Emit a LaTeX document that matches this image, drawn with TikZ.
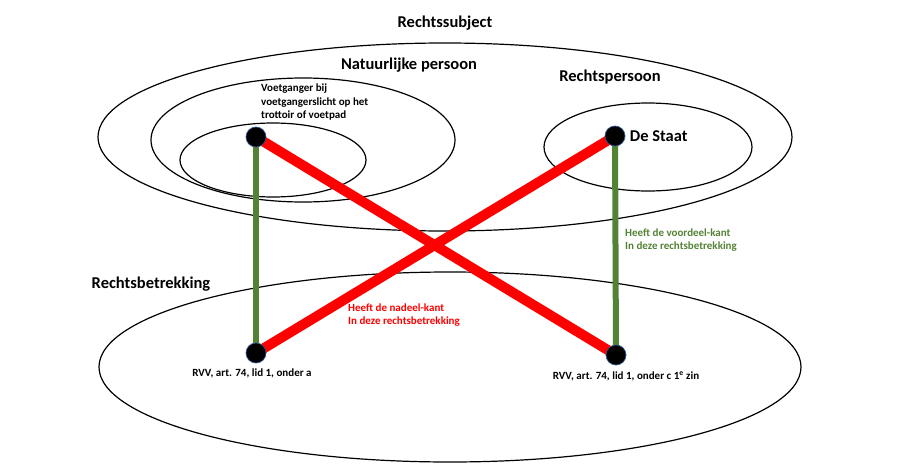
\documentclass[tikz,border=0pt]{standalone}
\definecolor{VoordeelColor}{RGB}{84,130,53}
\definecolor{NadeelColor}{RGB}{255,0,0}
\definecolor{DotEdgeColor}{RGB}{47,82,143}
\usepackage{fontspec}
\setmainfont{Carlito}
\usepackage{tikz}
\usetikzlibrary{backgrounds}
\tikzstyle{set} = [black, line width=1.2pt]
\tikzstyle{dot} = [circle, minimum size=20pt, inner sep=0pt, fill=black, draw=DotEdgeColor, line width=0.7pt]
\tikzstyle{voordeel} = [VoordeelColor, line width=6pt]
\tikzstyle{nadeel} = [NadeelColor, line width=10pt]
\tikzstyle{title} = [font=\bfseries\fontsize{16.5}{20}\selectfont]
\tikzstyle{small} = [font=\bfseries\fontsize{11}{13.5}\selectfont, inner sep=0pt]

\begin{document}
\begin{tikzpicture}[x=1pt, y=-1pt]
            \useasboundingbox (0,0) rectangle (908,474);
            % legal subjects
            \node[dot] (ped) at (256,137) {};
            \node[dot] (staat) at (615,136) {};
            % legal relation
            \node[dot] (rvva) at (256,353) {};
            \node[dot] (rvvc) at (616,355) {};

            \begin{scope}[on background layer]
            \draw[set] (445,137) ellipse [x radius=347, y radius=94];
            \draw[set] (303,140) ellipse [x radius=152, y radius=62];
            \draw[set] (273,160) ellipse [x radius=93, y radius=37];
            \draw[set] (648,147) ellipse [x radius=104, y radius=44];
            \draw[set] (450,367) ellipse [x radius=351, y radius=95];
            \draw[voordeel] (ped.center) -- (rvva.center);
            \draw[voordeel] (staat.center) -- (rvvc.center);
            \draw[nadeel] (ped.center) -- (rvvc.center);
            \draw[nadeel] (rvva.center) -- (staat.center);
            \end{scope}

            \node[title] (subject) at (445,23) {Rechtssubject};
            \node[title] (natuurlijk) at (409,65) {Natuurlijke persoon};
            \node[title] (rechtspersoon) at (610,77) {Rechtspersoon};
            \node[title, right=1pt] (staatlabel) at (staat.east) {De Staat};
            \node[title] (betrekking) at (151,284) {Rechtsbetrekking};
            \node[small, align=left, anchor=north west] (voetganger) at (261,84) {Voetganger bij\\voetgangerslicht op het\\trottoir of voetpad};
            \node[small, align=left, anchor=west, text=VoordeelColor] (voordeeltext) at (625,240) {Heeft de voordeel-kant\\In deze rechtsbetrekking};
            \node[small, align=left, anchor=west, text=NadeelColor] (nadeeltext) at (348,315) {Heeft de nadeel-kant\\In deze rechtsbetrekking};
            \node[small] (arta) at (252,373) {RVV, art. 74, lid 1, onder a};
            \node[small] (artc) at (626,376) {RVV, art. 74, lid 1, onder c 1\textsuperscript{e} zin};
\end{tikzpicture}
\end{document}
